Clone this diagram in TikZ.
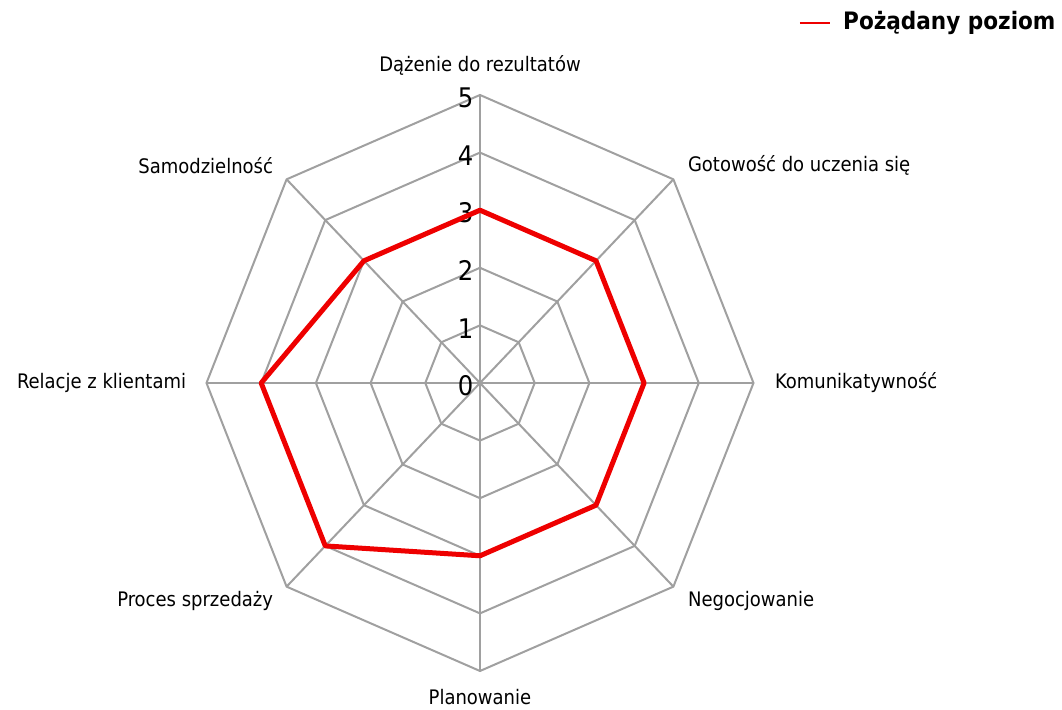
\documentclass[tikz,border=0pt]{standalone}
\usepackage{fontspec}
\setmainfont{DejaVu Sans Condensed}

\definecolor{gridgray}{RGB}{160,160,160}
\definecolor{targetred}{RGB}{238,0,0}

\tikzset{
  grid line/.style={draw=gridgray, line width=2pt},
  target line/.style={draw=targetred, line width=5pt, line join=round},
  level label/.style={anchor=east, inner sep=0pt, font=\fontsize{27}{27}\selectfont},
  axis label/.style={inner sep=0pt, font=\fontsize{20}{22}\selectfont},
}

\begin{document}
\begin{tikzpicture}[x=54.7pt, y=57.6pt]
\useasboundingbox (-8.775,-5.677) rectangle (10.640,6.649);

% rings and spokes
\foreach \r in {1,...,5}
  \draw[grid line] (90:\r) -- (45:\r) -- (0:\r) -- (-45:\r) -- (-90:\r)
    -- (-135:\r) -- (180:\r) -- (135:\r) -- cycle;
\foreach \a in {0,45,...,315}
  \draw[grid line] (0,0) -- (\a:5);

% scale
\foreach \r in {0,...,5}
  \node[level label] (lvl\r) at (-0.12,\r-0.05) {\r};

% axis names
\node[axis label, anchor=center] (rez)  at (90:5.52)  {Dążenie do rezultatów};
\node[axis label, anchor=west]   (got)  at (3.80,3.78)  {Gotowość do uczenia się};
\node[axis label, anchor=west]   (kom)  at (0:5.39)   {Komunikatywność};
\node[axis label, anchor=west]   (neg)  at (3.80,-3.78) {Negocjowanie};
\node[axis label, anchor=center] (plan) at (-90:5.45) {Planowanie};
\node[axis label, anchor=east]   (proc) at (-3.78,-3.78) {Proces sprzedaży};
\node[axis label, anchor=east]   (rel)  at (180:5.37) {Relacje z klientami};
\node[axis label, anchor=east]   (sam)  at (-3.78,3.78) {Samodzielność};

% desired level
\draw[target line] (90:3) -- (45:3) -- (0:3) -- (-45:3) -- (-90:3)
  -- (-135:4) -- (180:4) -- (135:3) -- cycle;

% legend
\coordinate (legA) at (5.85,6.25);
\coordinate (legB) at (6.40,6.25);
\draw[draw=targetred, line width=2pt] (legA) -- (legB);
\node[anchor=west, inner sep=0pt, font=\fontsize{24}{26}\selectfont\bfseries]
  (legend) at (6.636,6.25) {Pożądany poziom};
\end{tikzpicture}
\end{document}
